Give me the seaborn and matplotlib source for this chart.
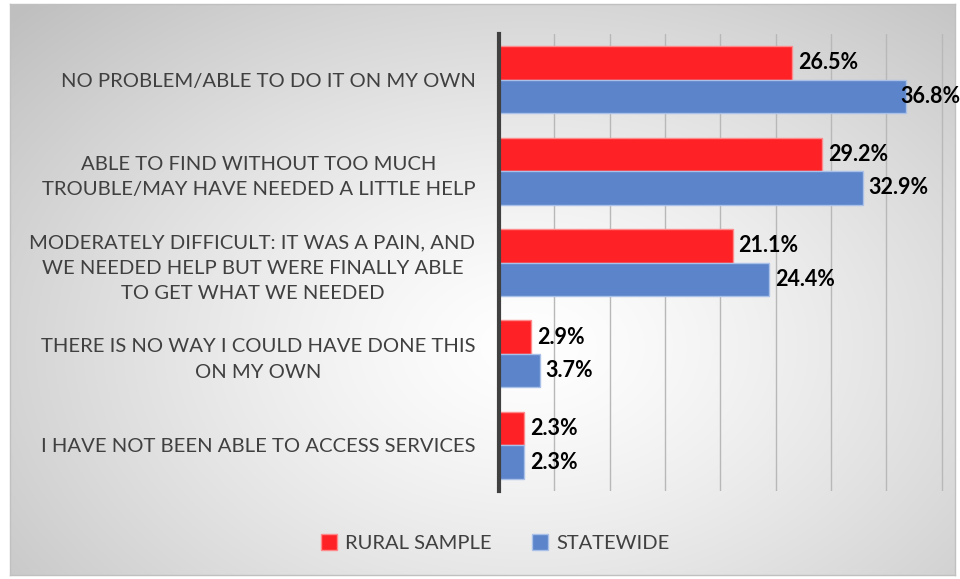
import numpy as np
import pandas as pd
import matplotlib
matplotlib.use("Agg")
import matplotlib.pyplot as plt
import seaborn as sns
from matplotlib.patches import Patch

categories = [
    "NO PROBLEM/ABLE TO DO IT ON MY OWN",
    "ABLE TO FIND WITHOUT TOO MUCH\nTROUBLE/MAY HAVE NEEDED A LITTLE HELP",
    "MODERATELY DIFFICULT: IT WAS A PAIN, AND\nWE NEEDED HELP BUT WERE FINALLY ABLE\nTO GET WHAT WE NEEDED",
    "THERE IS NO WAY I COULD HAVE DONE THIS\nON MY OWN",
    "I HAVE NOT BEEN ABLE TO ACCESS SERVICES",
]
series_names = ["RURAL SAMPLE", "STATEWIDE"]
rural = [26.5, 29.2, 21.1, 2.9, 2.3]
statewide = [36.8, 32.9, 24.4, 3.7, 2.3]
x_ticks = [0, 5, 10, 15, 20, 25, 30, 35, 40]

colors = ["#FE2226", "#5B84CA"]
edge_colors = ["#FF8A8C", "#A9C0E8"]

df = pd.DataFrame({
    "category": categories * 2,
    "series": [series_names[0]] * 5 + [series_names[1]] * 5,
    "value": rural + statewide,
})

sns.set_theme(style="white")
plt.rcParams["font.family"] = ["Lato", "DejaVu Sans"]

fig = plt.figure(figsize=(9.6, 5.79), dpi=100)
fig.patch.set_facecolor("white")

# background frame with radial gradient
bg = fig.add_axes([10 / 960, 1 - 575 / 579, 945 / 960, 571 / 579], zorder=0)
H, W = 300, 500
yy, xx = np.mgrid[0:H, 0:W]
nx = xx / (W - 1)
ny = yy / (H - 1)
d = np.sqrt(((nx - 0.55) / 0.75) ** 2 + ((ny - 0.6) / 0.85) ** 2)
d = np.clip(d, 0, 1)
val = 1.0 - 0.25 * d ** 1.3
img = np.dstack([val, val, val])
bg.imshow(img, aspect="auto", extent=[0, 1, 0, 1], origin="upper")
bg.set_xlim(0, 1)
bg.set_ylim(0, 1)
bg.set_xticks([])
bg.set_yticks([])
for s in bg.spines.values():
    s.set_color("#c0c0c0")
    s.set_linewidth(1.0)

ax = fig.add_axes([499 / 960, 1 - 491 / 579, (944 - 499) / 960, (491 - 34) / 579], zorder=1)
ax.patch.set_alpha(0)

sns.barplot(
    data=df, y="category", x="value", hue="series", order=categories,
    hue_order=series_names, palette=colors, orient="h", width=0.735,
    ax=ax, legend=False, saturation=1,
)

xmax = 40.2
for i, container in enumerate(ax.containers):
    for bar, v in zip(container, container.datavalues):
        bar.set_edgecolor(edge_colors[i])
        bar.set_linewidth(1.0)
        y = bar.get_y() + bar.get_height() / 2
        off = 4 if v < 35 else -4
        ax.annotate(f"{v:.1f}%", xy=(v, y), xytext=(off, 0), textcoords="offset points",
                    ha="left", va="center", fontsize=15.5, fontweight="bold",
                    color="black", annotation_clip=False, zorder=5)

ax.set_xlim(0, xmax)
ax.set_ylim(4.5, -0.5)
ax.set_xticks(x_ticks)
ax.set_xticklabels([])
ax.tick_params(axis="x", length=0)
ax.tick_params(axis="y", length=0, pad=17)
ax.xaxis.grid(True, color="#b8b8b8", linewidth=1.0)
ax.set_axisbelow(True)
ax.set_xlabel("")
ax.set_ylabel("")
for lab in ax.get_yticklabels():
    lab.set_fontsize(14.6)
    lab.set_color("#404040")
    lab.set_multialignment("center")
    lab.set_linespacing(1.6)
for k in ["top", "right", "bottom"]:
    ax.spines[k].set_visible(False)
ax.spines["left"].set_color("#404040")
ax.spines["left"].set_linewidth(3)

handles = [Patch(facecolor=colors[i], edgecolor=edge_colors[i], label=series_names[i]) for i in range(2)]
fig.legend(handles=handles, loc="center", bbox_to_anchor=(495 / 960, 1 - 543 / 579),
           ncol=2, frameon=False, fontsize=14.5, handlelength=0.8, handleheight=0.8,
           handletextpad=0.4, columnspacing=2.0, labelcolor="#404040")

fig.savefig("out.png", dpi=100)
